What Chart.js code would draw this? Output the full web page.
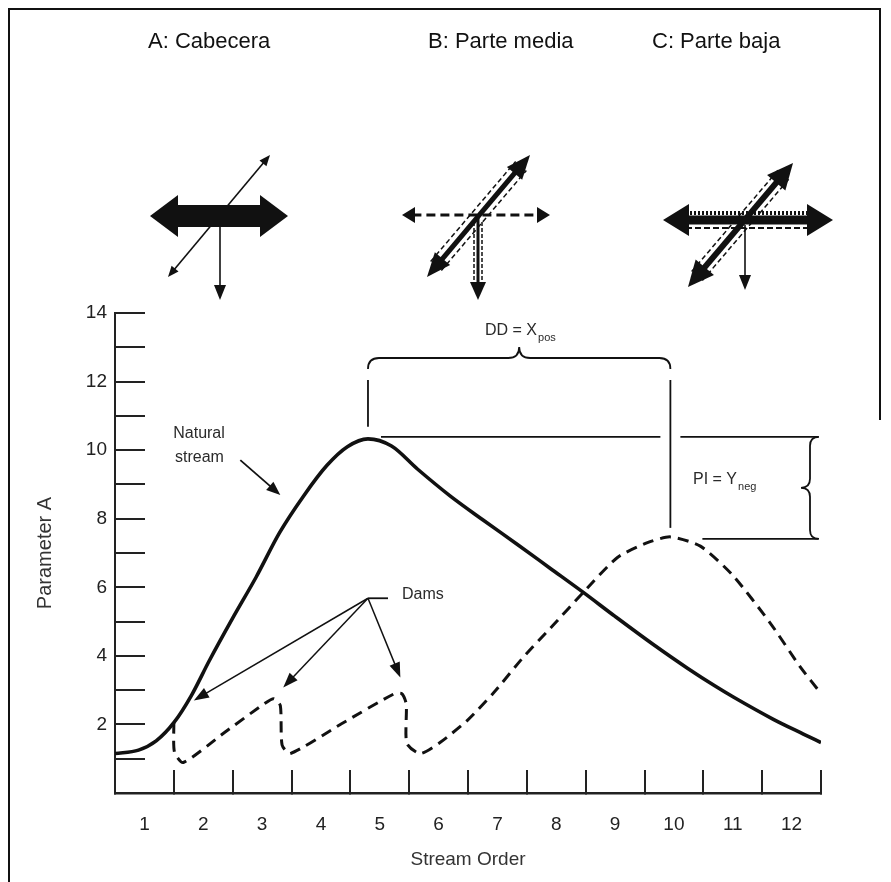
<!DOCTYPE html>
<html>
<head>
<meta charset="utf-8">
<script src="https://cdn.jsdelivr.net/npm/chart.js@4.4.1/dist/chart.umd.min.js"></script>
<style>
  html, body { margin: 0; padding: 0; background: #fff; }
</style>
</head>
<body>
<canvas id="myChart" width="891" height="882"></canvas>
<script>
// etiquetas del eje x (orden del cauce) y marcas del eje y
const ordenes = [1, 2, 3, 4, 5, 6, 7, 8, 9, 10, 11, 12]
const marcasY = [0, 1, 2, 3, 4, 5, 6, 7, 8, 9, 10, 11, 12, 13, 14]

// curva natural (linea continua)
const naturalX = [0.5, 0.9, 1.2, 1.5, 1.8, 2.1, 2.5, 2.9, 3.3, 3.7, 4.1, 4.45, 4.8, 5.2, 5.64, 6.2, 6.75, 7.34, 7.9, 8.46, 9.0, 9.65, 10.23, 10.7, 11.01, 11.69, 12.2, 12.5]
const naturalY = [1.15, 1.25, 1.52, 2.05, 2.85, 3.85, 5.1, 6.3, 7.6, 8.65, 9.55, 10.1, 10.33, 10.12, 9.45, 8.66, 7.97, 7.25, 6.55, 5.85, 5.15, 4.33, 3.64, 3.12, 2.8, 2.15, 1.72, 1.47]

// curva con presas (linea discontinua)
const presasX = [1.5, 1.51, 1.66, 2.35, 3.05, 3.2, 3.31, 3.34, 3.48, 4.35, 5.23, 5.37, 5.45, 5.46, 5.69, 6.03, 6.49, 6.95, 7.44, 7.95, 8.46, 9.04, 9.55, 9.94, 10.45, 11.0, 11.64, 12.15, 12.5]
const presasY = [2.05, 1.2, 0.89, 1.75, 2.62, 2.75, 2.55, 1.4, 1.15, 2.02, 2.88, 2.9, 2.6, 1.45, 1.15, 1.48, 2.12, 2.95, 3.96, 4.9, 5.85, 6.87, 7.3, 7.47, 7.2, 6.35, 4.95, 3.67, 2.9]

function hayFuente(nombre) {
    const c = document.createElement("canvas").getContext("2d")
    c.font = "40px monospace"
    const base = c.measureText("Parameter A 0123").width
    c.font = '40px "' + nombre + '", monospace'
    return c.measureText("Parameter A 0123").width !== base
}
const angosta = hayFuente("Liberation Sans Narrow")
const fuenteEje = angosta ? "Liberation Sans Narrow" : "Liberation Sans"
const tamEje = angosta ? 23 : 19

Chart.defaults.font.family = "Liberation Sans"
Chart.defaults.color = "#222"

function punta(c, x1, y1, x2, y2, largo, ancho) {
    const a = Math.atan2(y2 - y1, x2 - x1)
    const bx = x2 - largo * Math.cos(a), by = y2 - largo * Math.sin(a)
    c.beginPath()
    c.moveTo(x2, y2)
    c.lineTo(bx + ancho / 2 * Math.sin(a), by - ancho / 2 * Math.cos(a))
    c.lineTo(bx - ancho / 2 * Math.sin(a), by + ancho / 2 * Math.cos(a))
    c.closePath()
    c.fill()
}

function linea(c, x1, y1, x2, y2, grosor, guion) {
    c.save()
    c.lineWidth = grosor
    c.setLineDash(guion || [])
    c.beginPath()
    c.moveTo(x1, y1)
    c.lineTo(x2, y2)
    c.stroke()
    c.restore()
}

// flecha simple con punta rellena
function flecha(c, x1, y1, x2, y2, grosor, largo, ancho, guion) {
    const a = Math.atan2(y2 - y1, x2 - x1)
    linea(c, x1, y1, x2 - largo * 0.8 * Math.cos(a), y2 - largo * 0.8 * Math.sin(a), grosor, guion)
    punta(c, x1, y1, x2, y2, largo, ancho)
}

function flechaDoble(c, x1, y1, x2, y2, grosor, largo, ancho, guion) {
    const a = Math.atan2(y2 - y1, x2 - x1)
    const dx = Math.cos(a), dy = Math.sin(a)
    linea(c, x1 + largo * 0.8 * dx, y1 + largo * 0.8 * dy, x2 - largo * 0.8 * dx, y2 - largo * 0.8 * dy, grosor, guion)
    punta(c, x1, y1, x2, y2, largo, ancho)
    punta(c, x2, y2, x1, y1, largo, ancho)
}

// lineas discontinuas paralelas a ambos lados
function contorno(c, x1, y1, x2, y2, sep, guion, grosor) {
    const a = Math.atan2(y2 - y1, x2 - x1)
    const nx = -Math.sin(a) * sep, ny = Math.cos(a) * sep
    linea(c, x1 + nx, y1 + ny, x2 + nx, y2 + ny, grosor, guion)
    linea(c, x1 - nx, y1 - ny, x2 - nx, y2 - ny, grosor, guion)
}

function llaveH(c, x1, x2, y, h) {
    const xm = (x1 + x2) / 2
    c.beginPath()
    c.moveTo(x1, y + h)
    c.quadraticCurveTo(x1, y, x1 + h, y)
    c.lineTo(xm - h, y)
    c.quadraticCurveTo(xm, y, xm, y - h)
    c.quadraticCurveTo(xm, y, xm + h, y)
    c.lineTo(x2 - h, y)
    c.quadraticCurveTo(x2, y, x2, y + h)
    c.stroke()
}

function llaveV(c, x, y1, y2, h) {
    const ym = (y1 + y2) / 2
    c.beginPath()
    c.moveTo(x + h, y1)
    c.quadraticCurveTo(x, y1, x, y1 + h)
    c.lineTo(x, ym - h)
    c.quadraticCurveTo(x, ym, x - h, ym)
    c.quadraticCurveTo(x, ym, x, ym + h)
    c.lineTo(x, y2 - h)
    c.quadraticCurveTo(x, y2, x + h, y2)
    c.stroke()
}

function textoSub(c, x, y, texto, sub, tam) {
    c.font = tam + "px 'Liberation Sans'"
    c.textAlign = "left"
    c.textBaseline = "middle"
    c.fillText(texto, x, y)
    const w = c.measureText(texto).width
    c.font = Math.round(tam * 0.68) + "px 'Liberation Sans'"
    c.fillText(sub, x + w + 1, y + tam * 0.45)
}

const decoracion = {
    id: "decoracion",
    beforeDraw(chart) {
        const c = chart.ctx
        c.save()
        c.fillStyle = "#fff"
        c.fillRect(0, 0, chart.width, chart.height)
        c.strokeStyle = "#111"
        c.lineWidth = 2
        c.beginPath()
        c.moveTo(9, 882)
        c.lineTo(9, 9)
        c.lineTo(880, 9)
        c.lineTo(880, 420)
        c.stroke()
        c.restore()
    },
    afterDraw(chart) {
        const c = chart.ctx
        const sx = v => chart.scales.x.getPixelForValue(v)
        const sy = v => chart.scales.y.getPixelForValue(v)
        c.save()
        c.fillStyle = "#111"
        c.strokeStyle = "#111"

        // titulos de tramo
        c.font = "22px 'Liberation Sans'"
        c.textBaseline = "middle"
        c.textAlign = "left"
        c.fillText("A: Cabecera", 148, 42)
        c.fillText("B: Parte media", 428, 42)
        c.fillText("C: Parte baja", 652, 42)

        // A: cabecera
        flechaDoble(c, 168, 277, 270, 155, 1.6, 11, 9)
        c.beginPath()
        c.moveTo(150, 216)
        c.lineTo(178, 195); c.lineTo(178, 205); c.lineTo(260, 205); c.lineTo(260, 195)
        c.lineTo(288, 216)
        c.lineTo(260, 237); c.lineTo(260, 227); c.lineTo(178, 227); c.lineTo(178, 237)
        c.closePath()
        c.fill()
        flecha(c, 220, 227, 220, 300, 1.6, 15, 12)

        // B: parte media
        flechaDoble(c, 402, 215, 550, 215, 3, 13, 16, [9, 5])
        contorno(c, 436, 266, 521, 166, 7, [5, 3], 1.5)
        flechaDoble(c, 427, 277, 530, 155, 5, 24, 20)
        contorno(c, 478, 222, 478, 284, 4, [4, 2], 1.5)
        flecha(c, 478, 215, 478, 300, 3, 18, 16)

        // C: parte baja
        linea(c, 686, 213, 810, 213, 4, [2, 2])
        linea(c, 686, 228, 810, 228, 2, [6, 3])
        flechaDoble(c, 663, 220, 833, 220, 9, 26, 32)
        contorno(c, 697, 276, 784, 174, 7, [5, 3], 1.5)
        flechaDoble(c, 688, 287, 793, 163, 6, 26, 24)
        flecha(c, 745, 225, 745, 290, 1.6, 15, 12)

        // Natural stream
        c.fillStyle = "#2a2a2a"
        c.font = "16px 'Liberation Sans'"
        c.textAlign = "left"
        c.textBaseline = "middle"
        c.fillText("Natural", sx(1.49), sy(10.47))
        c.fillText("stream", sx(1.52), sy(9.77))
        c.fillStyle = "#111"
        flecha(c, sx(2.63), sy(9.71), sx(3.31), sy(8.69), 1.8, 14, 11)

        // Dams
        const jx = sx(4.8), jy = sy(5.68)
        linea(c, jx, jy, jx + 20, jy, 1.8)
        c.fillStyle = "#2a2a2a"
        c.fillText("Dams", jx + 34, jy - 4)
        c.fillStyle = "#111"
        flecha(c, jx, jy, sx(1.84), sy(2.7), 1.5, 15, 11)
        flecha(c, jx, jy, sx(3.36), sy(3.08), 1.5, 15, 11)
        flecha(c, jx, jy, sx(5.35), sy(3.37), 1.5, 15, 11)

        // DD y PI a partir de los picos de las curvas
        const iN = naturalY.indexOf(Math.max(...naturalY))
        const iP = presasY.indexOf(Math.max(...presasY))
        const pnx = sx(naturalX[iN]), pny = sy(naturalY[iN])
        const ppx = sx(presasX[iP]), ppy = sy(presasY[iP])
        c.lineWidth = 1.8
        linea(c, pnx, 380, pnx, pny - 12, 1.8)
        linea(c, ppx, 380, ppx, ppy - 9, 1.8)
        linea(c, pnx + 13, pny - 2, ppx - 10, pny - 2, 1.8)
        linea(c, ppx + 10, pny - 2, 818, pny - 2, 1.8)
        linea(c, ppx + 32, ppy + 2, 818, ppy + 2, 1.8)
        llaveH(c, pnx, ppx, 358, 11)
        llaveV(c, 810, pny - 2, ppy + 2, 9)

        c.fillStyle = "#2a2a2a"
        textoSub(c, 485, 331, "DD = X", "pos", 16)
        textoSub(c, 693, 480, "PI = Y", "neg", 16)
        c.restore()
    }
}

const grafico = document.getElementById("myChart").getContext("2d")
const myChart = new Chart(grafico, {
    type: "line",
    data: {
        datasets: [
            {
                label: "Natural stream",
                data: naturalX.map((x, i) => ({ x: x, y: naturalY[i] })),
                borderColor: "#111",
                borderWidth: 3.6,
                pointRadius: 0,
                cubicInterpolationMode: "monotone",
                fill: false
            },
            {
                label: "Dams",
                data: presasX.map((x, i) => ({ x: x, y: presasY[i] })),
                borderColor: "#111",
                borderWidth: 3,
                borderDash: [11, 7],
                pointRadius: 0,
                tension: 0.22,
                fill: false
            }
        ]
    },
    options: {
        responsive: false,
        animation: false,
        layout: { padding: { left: 29, right: 70, top: 313, bottom: 7 } },
        plugins: {
            legend: { display: false },
            tooltip: { enabled: false }
        },
        scales: {
            x: {
                type: "linear",
                min: 0.5,
                max: 12.5,
                afterBuildTicks: s => { s.ticks = ordenes.map(v => ({ value: v })) },
                afterFit: s => { s.height = 82 },
                grid: { offset: true, drawOnChartArea: false, tickLength: -23, color: "#222", lineWidth: 2 },
                border: { color: "#222", width: 2.5 },
                ticks: { padding: 43, color: "#222", font: { family: fuenteEje, size: tamEje } },
                title: { display: true, text: "Stream Order", color: "#333", font: { family: fuenteEje, size: tamEje } }
            },
            y: {
                min: 0,
                max: 14,
                afterBuildTicks: s => { s.ticks = marcasY.map(v => ({ value: v })) },
                afterFit: s => { s.width = 86 },
                grid: { drawOnChartArea: false, tickLength: -30, color: "#222", lineWidth: 2 },
                border: { color: "#222", width: 2 },
                ticks: {
                    padding: 38,
                    color: "#222",
                    font: { family: fuenteEje, size: tamEje },
                    callback: v => (v > 0 && v % 2 === 0) ? v : ""
                },
                title: { display: true, text: "Parameter A", color: "#333", font: { family: fuenteEje, size: tamEje + 1 } }
            }
        }
    },
    plugins: [decoracion]
})
</script>
</body>
</html>
